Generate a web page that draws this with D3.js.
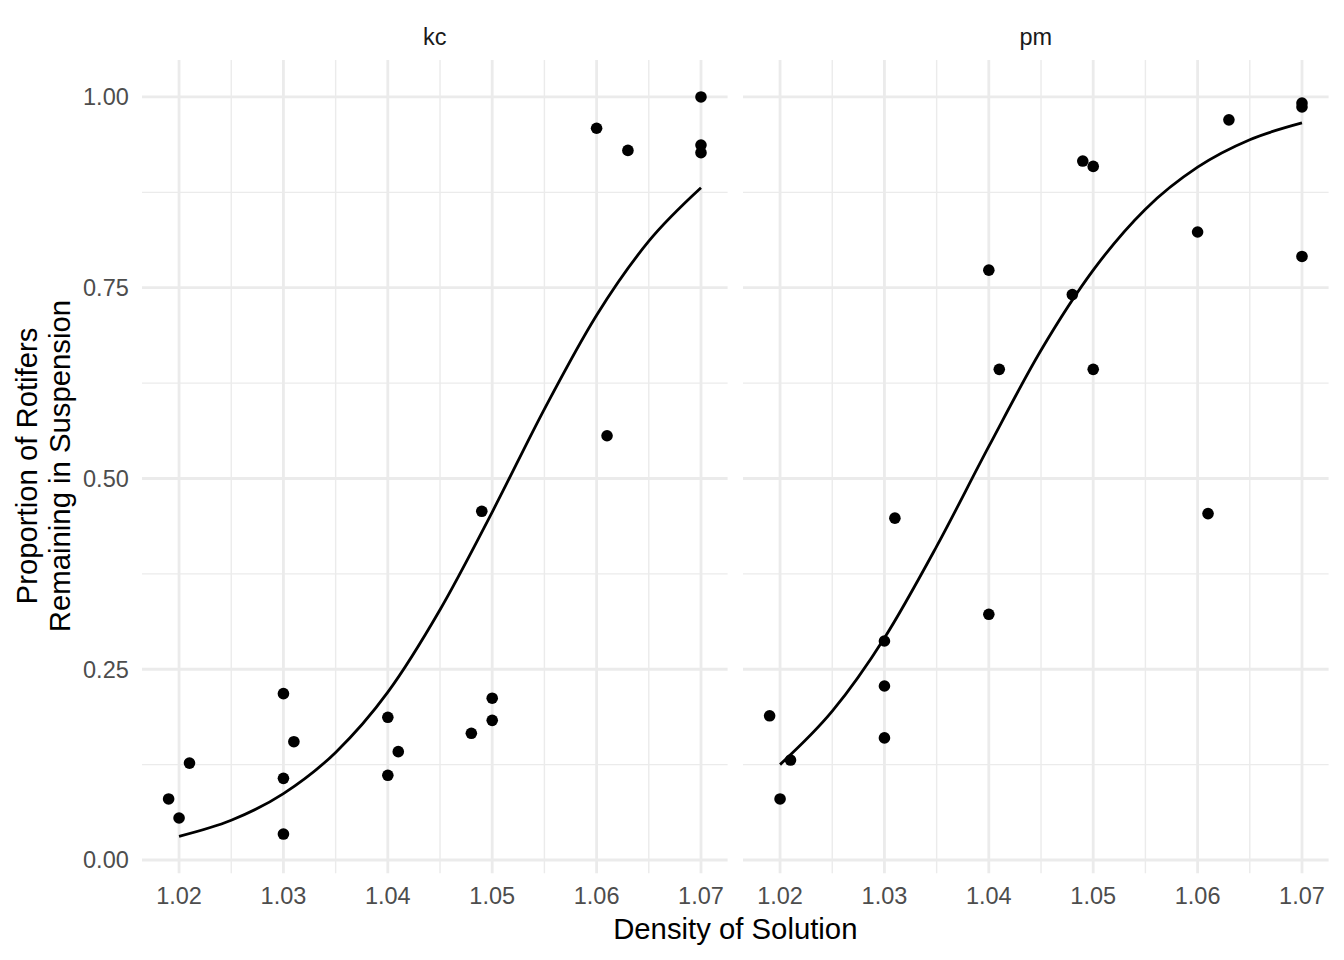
<!DOCTYPE html>
<html>
<head>
<meta charset="utf-8">
<script src="https://cdn.jsdelivr.net/npm/d3@7"></script>
<style>
  html, body { margin: 0; padding: 0; background: #fff; }
  svg { display: block; font-family: "Liberation Sans", Arial, Helvetica, sans-serif; }
</style>
</head>
<body>
<svg id="chart" width="1344" height="960"></svg>
<script>
// ---- data ----
const facets = ["kc", "pm"];

const kcDensity    = [1.019, 1.020, 1.021, 1.030, 1.030, 1.030, 1.031, 1.040, 1.040, 1.041,
                      1.048, 1.049, 1.050, 1.050, 1.060, 1.061, 1.063, 1.070, 1.070, 1.070];
const kcProportion = [0.080, 0.055, 0.127, 0.218, 0.107, 0.034, 0.155, 0.187, 0.111, 0.142,
                      0.166, 0.457, 0.212, 0.183, 0.959, 0.556, 0.930, 1.000, 0.937, 0.927];

const pmDensity    = [1.019, 1.020, 1.021, 1.030, 1.030, 1.030, 1.031, 1.040, 1.040, 1.041,
                      1.048, 1.049, 1.050, 1.050, 1.060, 1.061, 1.063, 1.070, 1.070, 1.070];
const pmProportion = [0.189, 0.080, 0.131, 0.287, 0.228, 0.160, 0.448, 0.773, 0.322, 0.643,
                      0.741, 0.916, 0.909, 0.643, 0.823, 0.454, 0.970, 0.992, 0.987, 0.791];

// fitted (logistic) curves
const fitDensity = [1.020, 1.025, 1.030, 1.035, 1.040, 1.045, 1.050, 1.055, 1.060, 1.065, 1.070];
const kcFit      = [0.031, 0.052, 0.087, 0.141, 0.220, 0.328, 0.456, 0.591, 0.714, 0.811, 0.881];
const pmFit      = [0.125, 0.195, 0.291, 0.411, 0.542, 0.668, 0.773, 0.853, 0.908, 0.944, 0.966];

const xTicks = [1.02, 1.03, 1.04, 1.05, 1.06, 1.07];
const xTickLabels = ["1.02", "1.03", "1.04", "1.05", "1.06", "1.07"];
const xMinor = [1.025, 1.035, 1.045, 1.055, 1.065];
const yTicks = [0, 0.25, 0.5, 0.75, 1];
const yTickLabels = ["0.00", "0.25", "0.50", "0.75", "1.00"];
const yMinor = [0.125, 0.375, 0.625, 0.875];

const xTitle = "Density of Solution";
const yTitleLines = ["Proportion of Rotifers", "Remaining in Suspension"];

// ---- layout ----
const panelLefts = [142, 743];
const panelWidth = 585.6;
const panelTop = 60;
const panelBottom = 873.3;

const series = {
  kc: { x: kcDensity, y: kcProportion, fit: kcFit },
  pm: { x: pmDensity, y: pmProportion, fit: pmFit }
};

// ggplot-like 5% expansion of the data range
const allX = kcDensity.concat(pmDensity, fitDensity);
const allY = kcProportion.concat(pmProportion, kcFit, pmFit);
const [xlo, xhi] = d3.extent(allX);
const [ylo, yhi] = d3.extent(allY);
const xpad = (xhi - xlo) * 0.05, ypad = (yhi - ylo) * 0.05;

const y = d3.scaleLinear().domain([ylo - ypad, yhi + ypad]).range([panelBottom, panelTop]);

const svg = d3.select("#chart");
const gridCol = "#EBEBEB";

facets.forEach((f, i) => {
  const x0 = panelLefts[i];
  const x = d3.scaleLinear().domain([xlo - xpad, xhi + xpad]).range([x0, x0 + panelWidth]);
  const g = svg.append("g");

  // minor grid
  g.selectAll(".ymin").data(yMinor).enter().append("line")
    .attr("x1", x0).attr("x2", x0 + panelWidth)
    .attr("y1", d => y(d)).attr("y2", d => y(d))
    .attr("stroke", gridCol).attr("stroke-width", 1.4);
  g.selectAll(".xmin").data(xMinor).enter().append("line")
    .attr("y1", panelTop).attr("y2", panelBottom)
    .attr("x1", d => x(d)).attr("x2", d => x(d))
    .attr("stroke", gridCol).attr("stroke-width", 1.4);
  // major grid
  g.selectAll(".ymaj").data(yTicks).enter().append("line")
    .attr("x1", x0).attr("x2", x0 + panelWidth)
    .attr("y1", d => y(d)).attr("y2", d => y(d))
    .attr("stroke", gridCol).attr("stroke-width", 2.8);
  g.selectAll(".xmaj").data(xTicks).enter().append("line")
    .attr("y1", panelTop).attr("y2", panelBottom)
    .attr("x1", d => x(d)).attr("x2", d => x(d))
    .attr("stroke", gridCol).attr("stroke-width", 2.8);

  // points
  const s = series[f];
  g.selectAll("circle").data(s.x.map((d, k) => [d, s.y[k]])).enter().append("circle")
    .attr("cx", d => x(d[0])).attr("cy", d => y(d[1])).attr("r", 5.8)
    .attr("fill", "#000");

  // fitted curve
  const line = d3.line().x(d => x(d[0])).y(d => y(d[1])).curve(d3.curveMonotoneX);
  g.append("path").datum(fitDensity.map((d, k) => [d, s.fit[k]]))
    .attr("d", line).attr("fill", "none").attr("stroke", "#000").attr("stroke-width", 2.8);

  // x tick labels
  g.selectAll(".xt").data(xTicks).enter().append("text")
    .attr("x", d => x(d)).attr("y", 903.5)
    .attr("text-anchor", "middle").attr("font-size", 23.5).attr("fill", "#4D4D4D")
    .text((d, k) => xTickLabels[k]);

  // strip label
  g.append("text").attr("x", x0 + panelWidth / 2).attr("y", 45)
    .attr("text-anchor", "middle").attr("font-size", 23.5).attr("fill", "#1A1A1A")
    .text(f);

  // y tick labels (first panel only)
  if (i === 0) {
    g.selectAll(".yt").data(yTicks).enter().append("text")
      .attr("x", 128.8).attr("y", d => y(d) + 8.4)
      .attr("text-anchor", "end").attr("font-size", 23.5).attr("fill", "#4D4D4D")
      .text((d, k) => yTickLabels[k]);
  }
});

// axis titles
svg.append("text").attr("x", (panelLefts[0] + panelLefts[1] + panelWidth) / 2).attr("y", 939)
  .attr("text-anchor", "middle").attr("font-size", 29.3).attr("fill", "#000")
  .text(xTitle);

const yCenter = 466;
const yTitle = svg.append("text")
  .attr("transform", `translate(0,${yCenter}) rotate(-90)`)
  .attr("text-anchor", "middle").attr("font-size", 29.3).attr("fill", "#000");
yTitle.selectAll("tspan").data(yTitleLines).enter().append("tspan")
  .attr("x", 0).attr("y", (d, k) => [37, 69.5][k])
  .text(d => d);
</script>
</body>
</html>
